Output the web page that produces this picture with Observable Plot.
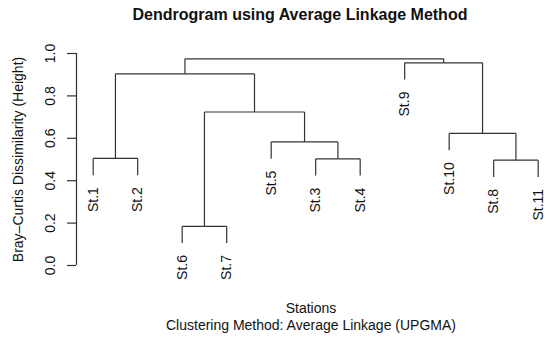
<!DOCTYPE html>
<html>
<head>
<meta charset="utf-8">
<script src="https://cdn.jsdelivr.net/npm/d3@7"></script>
<script src="https://cdn.jsdelivr.net/npm/@observablehq/plot@0.6"></script>
<style>
  html, body { margin: 0; padding: 0; background: #fff; }
  #wrap { position: relative; width: 550px; height: 340px; overflow: hidden; font-family: "Liberation Sans", Arial, Helvetica, sans-serif; color: #111; }
  #wrap svg { position: absolute; left: 0; top: 0; }
  .lbl { position: absolute; white-space: nowrap; transform: translateX(-50%); line-height: 16px; }
  #title { left: 300px; top: 7px; font-size: 16px; font-weight: bold; }
  #xlab { left: 311px; top: 300px; font-size: 14px; }
  #sub { left: 311px; top: 317px; font-size: 14px; }
</style>
</head>
<body>
<div id="wrap">
  <div id="title" class="lbl">Dendrogram using Average Linkage Method</div>
  <div id="xlab" class="lbl">Stations</div>
  <div id="sub" class="lbl">Clustering Method: Average Linkage (UPGMA)</div>
</div>
<script>
// Leaf order along the x axis
const leaves = ["St.1", "St.2", "St.6", "St.7", "St.5", "St.3", "St.4", "St.9", "St.10", "St.8", "St.11"];
// Merge steps (UPGMA), heights
const mergeIds    = ["M1", "M2", "M3", "M4", "M5", "M6", "M7", "M8", "M9", "M10"];
const mergeLeft   = ["St.1", "St.6", "St.3", "St.5", "M2", "M1", "St.8", "St.10", "St.9", "M6"];
const mergeRight  = ["St.2", "St.7", "St.4", "M3", "M4", "M5", "St.11", "M7", "M8", "M9"];
const mergeHeight = [0.505, 0.185, 0.503, 0.583, 0.724, 0.904, 0.497, 0.623, 0.956, 0.975];
// Axis ticks
const yTicks = [0, 0.2, 0.4, 0.6, 0.8, 1.0];
const yLabel = "Bray\u2013Curtis Dissimilarity (Height)";

// Build dendrogram layout (leaf index positions, midpoint merges, R-style hang)
const hang = 0.1 * (d3.max(mergeHeight) - d3.min(mergeHeight));
const nodes = {};
leaves.forEach((l, i) => nodes[l] = {x: i + 1, h: null, leaf: true, name: l});
const segs = [];
mergeIds.forEach((id, i) => {
  const h = mergeHeight[i];
  const a = nodes[mergeLeft[i]], b = nodes[mergeRight[i]];
  for (const c of [a, b]) if (c.leaf) c.h = h - hang;
  segs.push({x1: a.x, y1: h, x2: b.x, y2: h});
  segs.push({x1: a.x, y1: h, x2: a.x, y2: a.h});
  segs.push({x1: b.x, y1: h, x2: b.x, y2: b.h});
  nodes[id] = {x: (a.x + b.x) / 2, h, leaf: false};
});
const leafData = leaves.map(l => nodes[l]);

const xDomain = [0.625, 11.277];
const lineColor = "#333";

const chart = Plot.plot({
  width: 550,
  height: 340,
  marginLeft: 76,
  marginRight: 0,
  marginTop: 53,
  marginBottom: 75,
  style: {fontFamily: '"Liberation Sans", Arial, Helvetica, sans-serif', background: "transparent", color: "#111"},
  x: {domain: xDomain, axis: null},
  y: {domain: [0, 1], axis: null},
  marks: [
    Plot.axisY({ticks: yTicks, tickSize: 9, tickFormat: () => "", label: null, stroke: lineColor, strokeWidth: 1.2}),
    Plot.ruleX([xDomain[0]], {y1: 0, y2: 1, stroke: lineColor, strokeWidth: 1.2}),
    Plot.text(yTicks, {y: d => d, text: d => d.toFixed(1), frameAnchor: "left", textAnchor: "middle", dx: -26, rotate: -90, fontSize: 14, fill: "#111"}),
    Plot.text([yLabel], {frameAnchor: "left", textAnchor: "middle", dx: -58, rotate: -90, fontSize: 14, fill: "#111"}),
    Plot.link(segs, {x1: "x1", y1: "y1", x2: "x2", y2: "y2", stroke: lineColor, strokeWidth: 1.2}),
    Plot.text(leafData, {x: "x", y: "h", text: "name", rotate: -90, textAnchor: "end", dy: 12, fontSize: 14, fill: "#111"})
  ]
});
document.getElementById("wrap").prepend(chart);
</script>
</body>
</html>
